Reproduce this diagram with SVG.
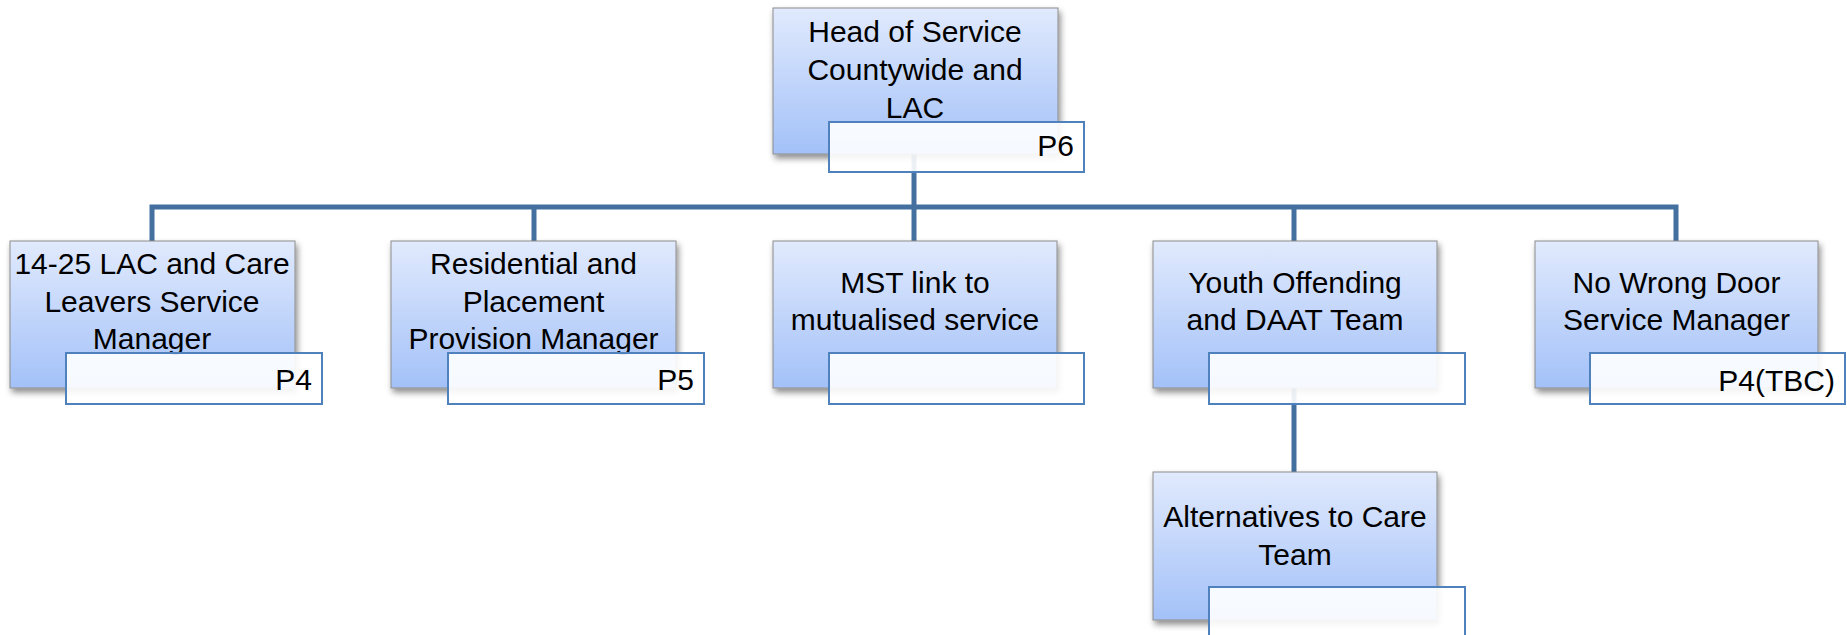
<svg xmlns="http://www.w3.org/2000/svg" width="1847" height="635" viewBox="0 0 1847 635">
  <defs>
    <linearGradient id="boxGrad" x1="0" y1="0" x2="0" y2="1">
      <stop offset="0" stop-color="#e1eafd"/>
      <stop offset="1" stop-color="#a3c1f8"/>
    </linearGradient>
    <filter id="shadow" x="-10%" y="-10%" width="125%" height="130%">
      <feDropShadow dx="2" dy="4" stdDeviation="3" flood-color="#000" flood-opacity="0.45"/>
    </filter>
    <style>
      .box { fill: url(#boxGrad); stroke: #8c8c8c; stroke-width: 1; filter: url(#shadow); }
      .lab { fill: #ffffff; fill-opacity: 0.9; stroke: #4f81bd; stroke-width: 2; }
      .t { font-family: "Liberation Sans", Arial, sans-serif; font-size: 30px; fill: #000; text-anchor: middle; }
      .p { font-family: "Liberation Sans", Arial, sans-serif; font-size: 30px; fill: #000; text-anchor: end; }
      .conn { fill: none; stroke: #4470a0; stroke-width: 5; }
    </style>
  </defs>

  <g id="connectors">
    <path class="conn" d="M914,150 V207"/>
    <path class="conn" d="M152,241 V207 H1676 V241"/>
    <path class="conn" d="M534,207 V241"/>
    <path class="conn" d="M914,207 V241"/>
    <path class="conn" d="M1294,207 V241"/>
    <path class="conn" d="M1294,385 V473"/>
  </g>

  <g id="head">
    <rect class="box" x="773" y="8" width="285" height="146"/>
    <text class="t" x="915" y="42">Head of Service</text>
    <text class="t" x="915" y="80">Countywide and</text>
    <text class="t" x="915" y="118">LAC</text>
    <rect class="lab" x="829" y="122" width="255" height="50"/>
    <text class="p" x="1074" y="156">P6</text>
  </g>

  <g id="lac">
    <rect class="box" x="10" y="241" width="285" height="147"/>
    <text class="t" x="152" y="274">14-25 LAC and Care</text>
    <text class="t" x="152" y="311.5">Leavers Service</text>
    <text class="t" x="152" y="349">Manager</text>
    <rect class="lab" x="66" y="353" width="256" height="51"/>
    <text class="p" x="312" y="390">P4</text>
  </g>

  <g id="residential">
    <rect class="box" x="391" y="241" width="285" height="147"/>
    <text class="t" x="533.5" y="274">Residential and</text>
    <text class="t" x="533.5" y="311.5">Placement</text>
    <text class="t" x="533.5" y="349">Provision Manager</text>
    <rect class="lab" x="448" y="353" width="256" height="51"/>
    <text class="p" x="694" y="390">P5</text>
  </g>

  <g id="mst">
    <rect class="box" x="773" y="241" width="284" height="147"/>
    <text class="t" x="915" y="293">MST link to</text>
    <text class="t" x="915" y="330">mutualised service</text>
    <rect class="lab" x="829" y="353" width="255" height="51"/>
  </g>

  <g id="youth">
    <rect class="box" x="1153" y="241" width="284" height="147"/>
    <text class="t" x="1295" y="293">Youth Offending</text>
    <text class="t" x="1295" y="330">and DAAT Team</text>
    <rect class="lab" x="1209" y="353" width="256" height="51"/>
  </g>

  <g id="nowrongdoor">
    <rect class="box" x="1535" y="241" width="283" height="147"/>
    <text class="t" x="1676.5" y="293">No Wrong Door</text>
    <text class="t" x="1676.5" y="330">Service Manager</text>
    <rect class="lab" x="1590" y="353" width="255" height="51"/>
    <text class="p" x="1835" y="391">P4(TBC)</text>
  </g>

  <g id="alternatives">
    <rect class="box" x="1153" y="472" width="284" height="148"/>
    <text class="t" x="1295" y="527">Alternatives to Care</text>
    <text class="t" x="1295" y="565">Team</text>
    <rect class="lab" x="1209" y="587" width="256" height="51"/>
  </g>
</svg>
